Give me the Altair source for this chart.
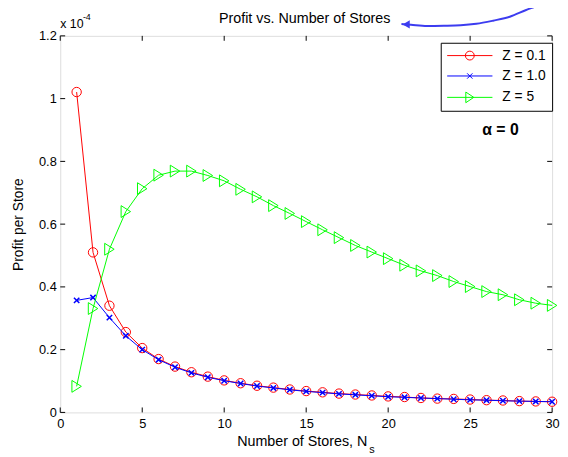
import altair as alt
import pandas as pd

# ---------------- data (values in units of 1e-4) ----------------
stores = list(range(1, 31))
profit_z01 = [1.021, 0.510, 0.340, 0.256, 0.205, 0.170, 0.146, 0.128, 0.114, 0.102,
              0.093, 0.085, 0.079, 0.073, 0.068, 0.064, 0.060, 0.057, 0.054, 0.051,
              0.049, 0.046, 0.044, 0.043, 0.041, 0.039, 0.038, 0.036, 0.035, 0.034]
profit_z10 = [0.357, 0.366, 0.302, 0.244, 0.200, 0.168, 0.144, 0.126, 0.112, 0.101,
              0.092, 0.084, 0.078, 0.072, 0.067, 0.063, 0.059, 0.056, 0.053, 0.050,
              0.048, 0.046, 0.044, 0.042, 0.040, 0.039, 0.037, 0.036, 0.035, 0.034]
profit_z5 = [0.083, 0.331, 0.520, 0.640, 0.713, 0.756, 0.769, 0.769, 0.755, 0.738,
             0.711, 0.687, 0.659, 0.634, 0.608, 0.582, 0.557, 0.532, 0.511, 0.490,
             0.469, 0.451, 0.436, 0.417, 0.401, 0.385, 0.375, 0.359, 0.348, 0.341]
series_names = ["Z = 0.1", "Z = 1.0", "Z = 5"]
series_colors = ["#ff0000", "#0000ff", "#00ff00"]

x_ticks = [0, 5, 10, 15, 20, 25, 30]
y_ticks = [0, 0.2, 0.4, 0.6, 0.8, 1.0, 1.2]

chart_title = "Profit vs. Number of Stores"

# annotation: "alpha = 0" label and the blue arrow pointing at the title
alpha_label = ["α = 0"]
alpha_x = [26.85]
alpha_y = [0.90]
arrow_x = [20.81, 21.39, 22.37, 23.40, 24.42, 25.38, 26.40, 27.42, 28.38, 29.40, 29.76]
arrow_y = [1.2377, 1.2352, 1.2314, 1.2321, 1.2336, 1.2383, 1.2484, 1.2609, 1.2817, 1.3027, 1.3121]
arrow_head_x = [21.10]
arrow_head_y = [1.2365]

# ---------------- layout / style ----------------
W, H = 499, 382
FONT = "Liberation Sans"
TICK = 5

rows = []
for name, vals in zip(series_names, [profit_z01, profit_z10, profit_z5]):
    for s, v in zip(stores, vals):
        rows.append({"stores": s, "profit": v, "series": name})
df = pd.DataFrame(rows)

xs = alt.Scale(domain=[0, 30], nice=False, zero=False)
ys = alt.Scale(domain=[0, 1.2], nice=False)

x_axis = alt.Axis(values=x_ticks, title="Number of Stores, N", ticks=False, domain=False,
                  grid=False, labelFontSize=13, labelPadding=5, labelFlush=False,
                  labelOverlap=False, labelColor="black", labelFont=FONT,
                  titleFont=FONT, titleFontSize=14.5, titleFontWeight="normal",
                  titleColor="black", titleX=245, titleY=34, titleBaseline="alphabetic")
y_axis = alt.Axis(values=y_ticks, format="~g", title="Profit per Store", ticks=False,
                  domain=False, grid=False, labelFontSize=13, labelPadding=4,
                  labelFlush=False, labelOverlap=False, labelColor="black", labelFont=FONT,
                  titleFont=FONT, titleFontSize=14, titleFontWeight="normal",
                  titleColor="black", titleX=-42, titleY=H / 2, titleBaseline="middle")

# every layer uses the same encodings, so the shared axes merge cleanly
X = alt.X("stores:Q", scale=xs, axis=x_axis)
Y = alt.Y("profit:Q", scale=ys, axis=y_axis)

base = alt.Chart(df)
layers = []

# inward tick marks on all four sides (MATLAB box style)
xt = pd.DataFrame({"stores": x_ticks})
yt = pd.DataFrame({"profit": y_ticks})
layers.append(alt.Chart(xt).mark_rule(color="black", strokeWidth=1).encode(
    x=X, y=alt.value(H), y2=alt.value(H - TICK)))
layers.append(alt.Chart(xt).mark_rule(color="black", strokeWidth=1).encode(
    x=X, y=alt.value(0), y2=alt.value(TICK)))
layers.append(alt.Chart(yt).mark_rule(color="black", strokeWidth=1).encode(
    y=Y, x=alt.value(0), x2=alt.value(TICK)))
layers.append(alt.Chart(yt).mark_rule(color="black", strokeWidth=1).encode(
    y=Y, x=alt.value(W), x2=alt.value(W - TICK)))

marker_shapes = ["circle", "M-1,-1L1,1M-1,1L1,-1", "M-0.8,-1L0.8,0L-0.8,1Z"]
marker_sizes = [90, 30, 144]
marker_widths = [1, 1.5, 1]

for name, col, shp, sz, sw in zip(series_names, series_colors, marker_shapes,
                                  marker_sizes, marker_widths):
    sub = base.transform_filter(alt.datum.series == name)
    layers.append(sub.mark_line(color=col, strokeWidth=1).encode(x=X, y=Y))
    layers.append(sub.mark_point(color=col, shape=shp, size=sz, filled=False,
                                 strokeWidth=sw, opacity=1).encode(x=X, y=Y))

# legend (invisible layer that only carries the legend)
legend_shapes = [
    "M-5.1,0H5.1M1,0A1,1,0,1,1,-1,0A1,1,0,1,1,1,0",
    "M-5.1,0H5.1M-0.6,-0.6L0.6,0.6M-0.6,0.6L0.6,-0.6",
    "M-5.1,0H5.1M-0.9,-1.2L0.9,0L-0.9,1.2Z",
]
legend = alt.Legend(title=None, orient="none", legendX=386, legendY=7, direction="vertical",
                    padding=6, strokeColor="black", fillColor="white", cornerRadius=0,
                    symbolSize=81, symbolStrokeWidth=1, symbolOffset=16.5, labelOffset=26,
                    labelFontSize=14, labelFont=FONT, labelColor="black", rowPadding=6.7,
                    symbolOpacity=1)
layers.append(base.mark_point(filled=False, opacity=0).encode(
    x=X, y=Y,
    color=alt.Color("series:N", scale=alt.Scale(domain=series_names, range=series_colors),
                    legend=legend),
    shape=alt.Shape("series:N", scale=alt.Scale(domain=series_names, range=legend_shapes),
                    legend=legend),
))

# annotations
ann = pd.DataFrame({"stores": alpha_x, "profit": alpha_y, "label": alpha_label})
layers.append(alt.Chart(ann).mark_text(font=FONT, fontSize=16, fontWeight="bold",
                                       color="black", align="center", baseline="middle").encode(
    x=X, y=Y, text="label:N"))

arr = pd.DataFrame({"stores": arrow_x, "profit": arrow_y, "i": list(range(len(arrow_x)))})
layers.append(alt.Chart(arr).mark_line(color="#3c3cf0", strokeWidth=2,
                                       interpolate="monotone").encode(x=X, y=Y, order="i:Q"))
head = pd.DataFrame({"stores": arrow_head_x, "profit": arrow_head_y})
layers.append(alt.Chart(head).mark_point(shape="triangle-left", filled=True, size=70,
                                         color="#3c3cf0", opacity=1).encode(x=X, y=Y))

# chart title, exponent label "x 10^-4" and subscript of the x-axis title
layers.append(alt.Chart(pd.DataFrame({"t": [chart_title]})).mark_text(
    font=FONT, fontSize=14.5, color="black", align="center", baseline="alphabetic").encode(
    x=alt.value(W / 2 - 1.5), y=alt.value(-13.5), text="t:N"))
layers.append(alt.Chart(pd.DataFrame({"t": ["x 10"]})).mark_text(
    font=FONT, fontSize=12.5, color="black", align="left", baseline="alphabetic").encode(
    x=alt.value(0), y=alt.value(-8), text="t:N"))
layers.append(alt.Chart(pd.DataFrame({"t": ["-4"]})).mark_text(
    font=FONT, fontSize=9, color="black", align="left", baseline="alphabetic").encode(
    x=alt.value(23), y=alt.value(-16), text="t:N"))
layers.append(alt.Chart(pd.DataFrame({"t": ["s"]})).mark_text(
    font=FONT, fontSize=11, color="black", align="left", baseline="alphabetic").encode(
    x=alt.value(313.5), y=alt.value(H + 41), text="t:N"))

chart = alt.layer(*layers).properties(
    width=W, height=H,
    autosize=alt.AutoSizeParams(type="none"),
    padding={"left": 53, "top": 25, "right": 8, "bottom": 44},
).configure_view(stroke="black", strokeWidth=1).configure(background="white")

chart.save("out.html", embed_options={"renderer": "svg", "actions": False})
